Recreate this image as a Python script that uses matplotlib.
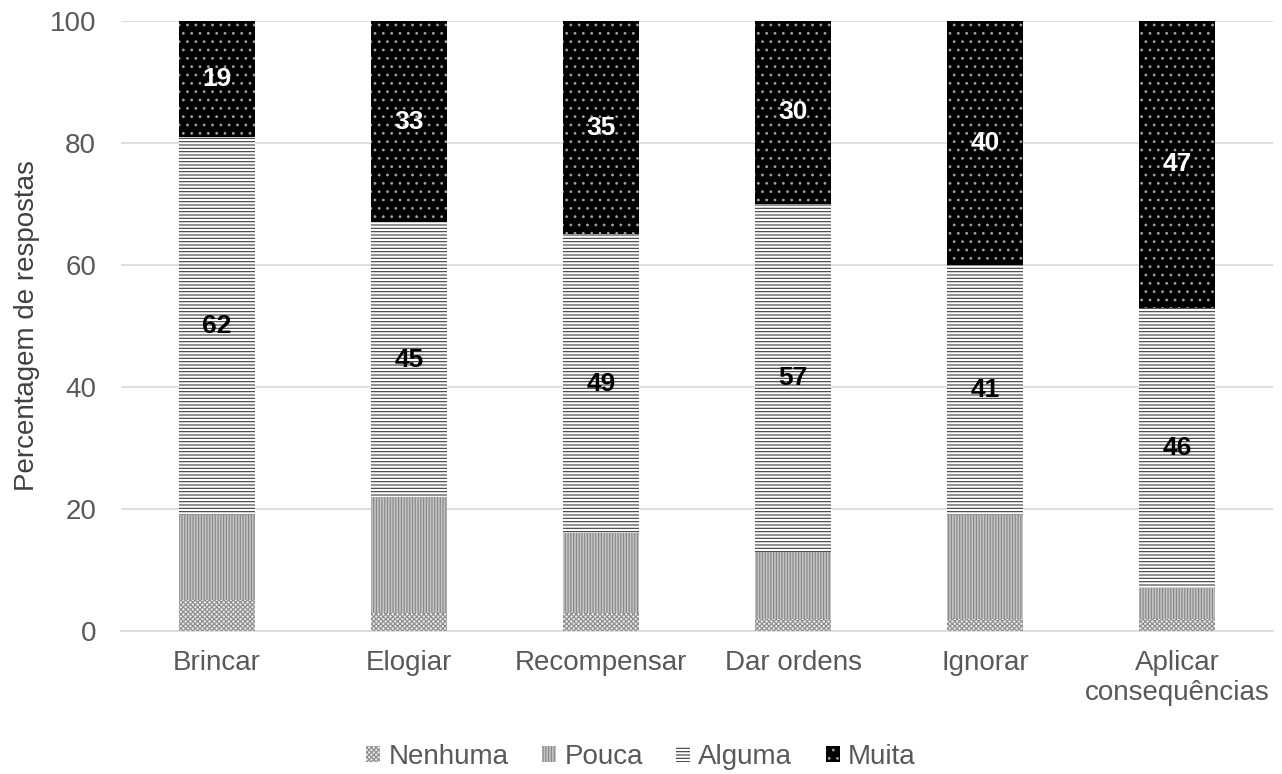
import matplotlib
matplotlib.use("Agg")
import matplotlib.pyplot as plt
from matplotlib.patches import Patch
import numpy as np

plt.rcParams['font.family'] = ['Liberation Sans', 'DejaVu Sans']
plt.rcParams['hatch.linewidth'] = 0.8

categories = ["Brincar", "Elogiar", "Recompensar", "Dar ordens", "Ignorar", "Aplicar\nconsequências"]
series_names = ["Nenhuma", "Pouca", "Alguma", "Muita"]
nenhuma = [5, 3, 3, 2, 2, 2]
pouca = [14, 19, 13, 11, 17, 5]
alguma = [62, 45, 49, 57, 41, 46]
muita = [19, 33, 35, 30, 40, 47]
y_ticks = [0, 20, 40, 60, 80, 100]

styles = [
    dict(facecolor="#e6e6e6", edgecolor="#8c8c8c", hatch="xxxxxxx"),
    dict(facecolor="#c4c4c4", edgecolor="#858585", hatch="||||||"),
    dict(facecolor="#ffffff", edgecolor="#3c3c3c", hatch="-----"),
    dict(facecolor="#000000", edgecolor="#a0a0a0", hatch=".."),
]
label_colors = [None, None, "black", "white"]

fig = plt.figure(figsize=(12.82, 7.74), dpi=100)
ax = fig.add_axes([0.0944, 0.1848, 0.8986, 0.7881])

x = np.arange(len(categories))
bottom = np.zeros(len(categories))
for name, vals, st, lc in zip(series_names, [nenhuma, pouca, alguma, muita], styles, label_colors):
    vals = np.array(vals, dtype=float)
    ax.bar(x, vals, width=0.4, bottom=bottom, linewidth=0, zorder=3, label=name, **st)
    if lc is not None:
        for xi, b, v in zip(x, bottom, vals):
            ax.text(xi, b + v / 2, f"{int(v)}", ha="center", va="center",
                    fontsize=19, fontweight="bold", color=lc, zorder=4)
    bottom += vals

ax.set_xlim(-0.5, len(categories) - 0.5)
ax.set_ylim(0, 100)
ax.set_yticks(y_ticks)
ax.set_xticks(x)
ax.set_xticklabels(categories, fontsize=20, color="#595959", linespacing=1.2)
ax.tick_params(axis="y", labelsize=20, colors="#595959", length=0, pad=18)
ax.tick_params(axis="x", length=0, pad=14)
ax.grid(axis="y", color="#d9d9d9", linewidth=1.2, zorder=0)
for s in ["top", "right", "left"]:
    ax.spines[s].set_visible(False)
ax.spines["bottom"].set_color("#d9d9d9")
ax.spines["bottom"].set_linewidth(1.2)
ax.set_ylabel("Percentagem de respostas", fontsize=20, color="#404040", labelpad=7)

handles = [Patch(label=n, linewidth=0, **st) for n, st in zip(series_names, styles)]
fig.legend(handles=handles, loc="center", bbox_to_anchor=(0.5, 0.022), ncol=4,
           frameon=False, fontsize=20, handlelength=0.5, handleheight=0.5,
           handletextpad=0.3, columnspacing=1.2, labelcolor="#595959")

fig.savefig("out.png", dpi=100)
